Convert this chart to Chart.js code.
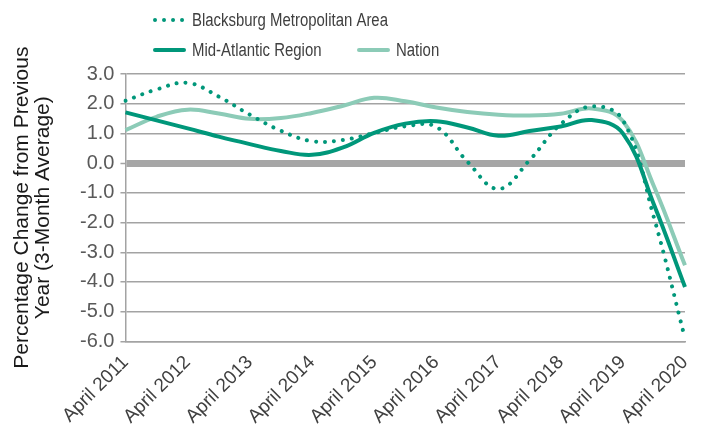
<!DOCTYPE html>
<html>
<head>
<meta charset="utf-8">
<title>Percentage Change from Previous Year</title>
<script src="https://cdn.jsdelivr.net/npm/chart.js@4.4.1/dist/chart.umd.min.js"></script>
<style>
  html, body { margin: 0; padding: 0; background: #fff; }
  #wrap { width: 704px; height: 430px; }
</style>
</head>
<body>
<div id="wrap"><canvas id="chart" width="704" height="430"></canvas></div>
<script>
// half-year points, only the April ones get a label on the axis
const periods = [
  "April 2011", "October 2011", "April 2012", "October 2012", "April 2013",
  "October 2013", "April 2014", "October 2014", "April 2015", "October 2015",
  "April 2016", "October 2016", "April 2017", "October 2017", "April 2018",
  "October 2018", "April 2019", "October 2019", "April 2020"
];

const blacksburg = [2.1, 2.48, 2.7, 2.24, 1.63, 1.09, 0.74, 0.78, 1.01, 1.24,
  1.22, 0.05, -0.87, 0.1, 1.31, 1.91, 1.45, -1.83, -5.9];
const midAtlantic = [1.71, 1.44, 1.17, 0.89, 0.64, 0.41, 0.28, 0.53, 1.02, 1.33,
  1.41, 1.2, 0.92, 1.08, 1.23, 1.45, 1.0, -1.39, -4.17];
const nation = [1.11, 1.56, 1.8, 1.67, 1.49, 1.52, 1.69, 1.93, 2.2, 2.08,
  1.87, 1.72, 1.63, 1.6, 1.66, 1.84, 1.42, -0.78, -3.44];

const yTicks = { min: -6, max: 3, step: 1 };
const axisTitle = ["Percentage Change from Previous", "Year (3-Month Average)"];

const DARK = "#00977a";
const LIGHT = "#8ccbb7";
const GRID = "#a3a3a3";
const FONT = "'Liberation Sans', Arial, sans-serif";

// legend drawn by hand: two rows, first one holds only Blacksburg
const legendPlugin = {
  id: "rowLegend",
  afterDraw(chart) {
    const ctx = chart.ctx;
    const ds = chart.data.datasets;
    const rows = [
      { i: 0, x: 153, y: 20 },
      { i: 1, x: 153, y: 50 },
      { i: 2, x: 357, y: 50 },
    ];
    ctx.save();
    ctx.textBaseline = "middle";
    ctx.fillStyle = "#404040";
    rows.forEach((r) => {
      const d = ds[r.i];
      ctx.beginPath();
      ctx.strokeStyle = d.borderColor;
      ctx.lineWidth = d.borderWidth;
      ctx.lineCap = "round";
      ctx.setLineDash(d.borderDash || []);
      ctx.moveTo(r.x + 2, r.y);
      ctx.lineTo(r.x + 31, r.y);
      ctx.stroke();
      ctx.setLineDash([]);
      // the source font is a narrow one, squeeze the text a bit
      ctx.save();
      ctx.font = "18px " + FONT;
      ctx.translate(r.x + 39, r.y + 1);
      ctx.scale(0.83, 1);
      ctx.fillText(d.label, 0, 0);
      ctx.restore();
    });
    ctx.restore();
  },
};

new Chart(document.getElementById("chart"), {
  type: "line",
  data: {
    labels: periods,
    datasets: [
      {
        label: "Blacksburg Metropolitan Area",
        data: blacksburg,
        borderColor: DARK,
        borderWidth: 4,
        borderDash: [0.01, 9],
        borderCapStyle: "round",
        tension: 0.4,
        pointRadius: 0,
        fill: false,
        order: 1,
      },
      {
        label: "Mid-Atlantic Region",
        data: midAtlantic,
        borderColor: DARK,
        borderWidth: 4,
        tension: 0.4,
        pointRadius: 0,
        fill: false,
        order: 2,
      },
      {
        label: "Nation",
        data: nation,
        borderColor: LIGHT,
        borderWidth: 4,
        tension: 0.4,
        pointRadius: 0,
        fill: false,
        order: 3,
      },
    ],
  },
  options: {
    responsive: false,
    animation: false,
    layout: { padding: { top: 74, left: 12, right: 19, bottom: 0 } },
    plugins: {
      legend: { display: false },
      tooltip: { enabled: false },
    },
    scales: {
      x: {
        grid: { display: false },
        border: { display: true, color: GRID, width: 1.5 },
        ticks: {
          autoSkip: false,
          minRotation: 45,
          maxRotation: 45,
          padding: 2,
          color: "#404040",
          font: { family: FONT, size: 19 },
          callback: function (val, idx) {
            return idx % 2 === 0 ? this.getLabelForValue(val) : null;
          },
        },
      },
      y: {
        min: yTicks.min,
        max: yTicks.max,
        ticks: {
          stepSize: yTicks.step,
          padding: 6,
          color: "#595959",
          font: { family: FONT, size: 20 },
          callback: (v) => v.toFixed(1),
        },
        grid: {
          color: (c) => (c.tick && c.tick.value === 0 ? "#a6a6a6" : GRID),
          lineWidth: (c) => (c.tick && c.tick.value === 0 ? 7 : 1.5),
          tickColor: GRID,
          tickWidth: 1.5,
          tickLength: 5,
        },
        border: { display: true, color: GRID, width: 1.5 },
        title: {
          display: true,
          text: axisTitle,
          color: "#1a1a1a",
          font: { family: FONT, size: 21, lineHeight: 1.0 },
          padding: { top: 0, bottom: 20 },
        },
      },
    },
  },
  plugins: [legendPlugin],
});
</script>
</body>
</html>
